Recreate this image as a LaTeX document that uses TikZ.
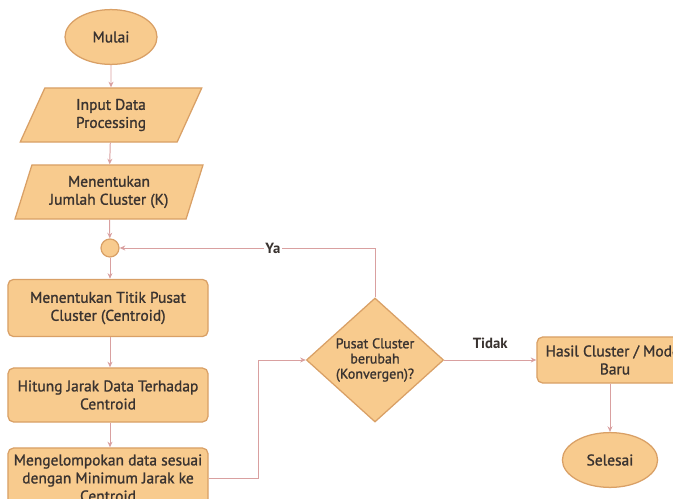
\documentclass[tikz,border=0pt]{standalone}
\usepackage{fontspec}
\setmainfont{PT Sans}[BoldFont={PT Sans},BoldFeatures={FakeBold=1.2}]
\newfontfamily\labelfont{PT Sans}
\usetikzlibrary{shapes.geometric,arrows.meta}
\definecolor{boxfill}{HTML}{F8CB8E}
\definecolor{boxline}{HTML}{D9A066}
\definecolor{arrline}{HTML}{D9A0A0}
\definecolor{txt}{HTML}{3A3330}
\tikzset{
  box/.style={draw=boxline,fill=boxfill,line width=0.9pt,text=txt,align=center,
              font=\fontsize{11}{12.8}\selectfont\bfseries,inner sep=0pt},
  startstop/.style={box,ellipse,minimum width=2.3cm,minimum height=1.37cm},
  io/.style={box,trapezium,trapezium left angle=68,trapezium right angle=112,
             trapezium stretches=true,minimum width=4.55cm,minimum height=1.35cm},
  process/.style={box,rectangle,rounded corners=4pt,minimum width=5cm},
  decision/.style={box,diamond,minimum width=3.43cm,minimum height=3.1cm,
                   font=\fontsize{10}{10.8}\selectfont\bfseries},
  joint/.style={box,circle,minimum size=0.45cm},
  flow/.style={draw=arrline,line width=0.7pt,-{Stealth[length=4pt,width=3.5pt]}},
  answer/.style={text=txt,font=\fontsize{10.5}{11}\labelfont\bfseries,inner sep=1pt}
}
\begin{document}
\begin{tikzpicture}[x=0.025cm,y=-0.025cm]
\clip (0,0) rectangle (673,499);
%left column
\node[startstop] (mulai) at (111,37) {Mulai};
\node[io] (input) at (111,115) {Input Data\\Processing};
\node[io,minimum width=4.7cm] (jumlah) at (109,192) {Menentukan\\Jumlah Cluster (K)};
\node[joint] (titik0) at (110,248) {};
\node[process,minimum height=1.43cm] (pusat) at (108,308) {Menentukan Titik Pusat\\Cluster (Centroid)};
\node[process,minimum height=1.35cm] (jarak) at (108,395) {Hitung Jarak Data Terhadap\\Centroid};
\node[process,minimum height=1.5cm] (kelompok) at (108,478) {Mengelompokan data sesuai\\dengan Minimum Jarak ke\\Centroid};
%decision and result
\node[decision] (cek) at (375,360) {Pusat Cluster\\berubah\\(Konvergen)?};
\node[process,minimum width=3.9cm,minimum height=1.15cm] (hasil) at (615,360) {Hasil Cluster / Model\\Baru};
\node[startstop,minimum width=2.38cm] (selesai) at (610,460) {Selesai};
%arrows
\draw[flow] (mulai) -- (input);
\draw[flow] (input) -- (jumlah);
\draw[flow] (jumlah) -- (titik0);
\draw[flow] (titik0) -- (titik0 |- pusat.north);
\draw[flow] (pusat.south -| titik0) -- (titik0 |- jarak.north);
\draw[flow] (jarak.south -| titik0) -- (titik0 |- kelompok.north);
\draw[flow] (kelompok.east) -- ++(50,0) |- (cek.west);
\draw[flow] (cek.north) |- (titik0.east) node[answer,fill=white,pos=0.7] {Ya};
\draw[flow] (cek.east) -- (hasil.west) node[answer,midway,above=7pt] {Tidak};
\draw[flow] (hasil.south -| selesai) -- (selesai);
\end{tikzpicture}
\end{document}
